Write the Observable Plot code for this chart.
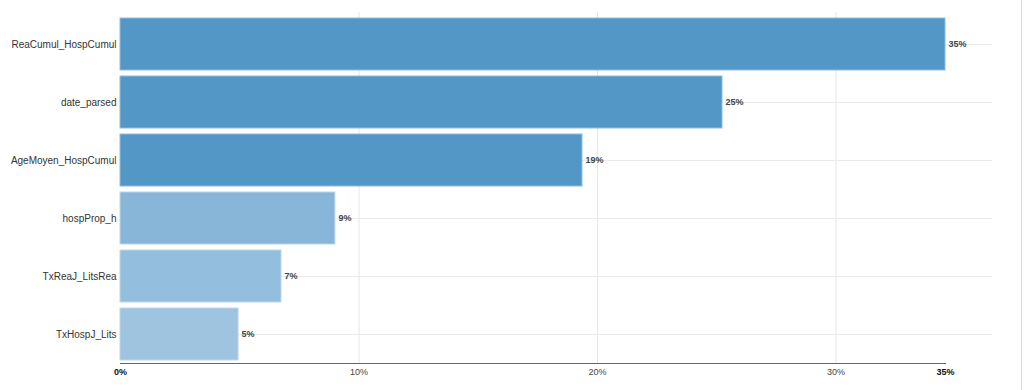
<!DOCTYPE html>
<html>
<head>
<meta charset="utf-8">
<script src="https://cdn.jsdelivr.net/npm/d3@7"></script>
<script src="https://cdn.jsdelivr.net/npm/@observablehq/plot@0.6"></script>
<style>
  html, body { margin: 0; padding: 0; background: #fff; }
  #wrap { width: 1021px; height: 390px; border-right: 1px solid #ddd; overflow: hidden; }
</style>
</head>
<body>
<div id="wrap"></div>
<script>
const features = ["ReaCumul_HospCumul", "date_parsed", "AgeMoyen_HospCumul", "hospProp_h", "TxReaJ_LitsRea", "TxHospJ_Lits"];
const importance = [0.3459, 0.2524, 0.1937, 0.0901, 0.0675, 0.0495];
const tier = ["high", "high", "high", "low", "low", "low"];
const tickValues = [0.1, 0.2, 0.3];

const data = features.map((f, i) => ({feature: f, value: importance[i], tier: tier[i]}));
const maxVal = d3.max(importance);
const fmt = d3.format(".0%");
const font = "Liberation Sans, Arial, sans-serif";

const chart = Plot.plot({
  width: 1021,
  height: 390,
  marginLeft: 120,
  marginRight: 76,
  marginTop: 12,
  marginBottom: 27,
  style: {fontFamily: font, background: "#fff"},
  x: {domain: [0, maxVal], axis: null},
  y: {domain: features, padding: 0.1, paddingOuter: 0.05, insetTop: 3, axis: null},
  color: {type: "linear", domain: [0.05, 0.09], range: ["#9ec4e0", "#88b6d8"]},
  marks: [
    Plot.gridX(tickValues, {stroke: "#e6e6e6", strokeOpacity: 1}),
    Plot.ruleY(features, {y: d => d, stroke: "#ebebeb", insetRight: -47}),
    Plot.barX(data.filter(d => d.tier === "high"), {x: "value", y: "feature", fill: "#5297c6", stroke: "#8fbce0", strokeWidth: 1}),
    Plot.barX(data.filter(d => d.tier === "low"), {x: "value", y: "feature", fill: "value", stroke: "#bcd7ec", strokeWidth: 1}),
    Plot.text(data, {x: "value", y: "feature", text: d => fmt(d.value), dx: 3, textAnchor: "start", fontWeight: "bold", fill: "#444", fontSize: 9}),
    Plot.frame({anchor: "bottom", stroke: "#666"}),
    Plot.axisY({tickSize: 0, tickPadding: 4, fontSize: 10, color: "#333", label: null}),
    Plot.axisX(tickValues, {tickSize: 0, tickPadding: 5, fontSize: 9, color: "#444", tickFormat: fmt, label: null}),
    Plot.axisX([0, maxVal], {tickSize: 0, tickPadding: 5, fontSize: 9, fontWeight: "bold", color: "#111", tickFormat: fmt, label: null})
  ]
});
document.getElementById("wrap").appendChild(chart);
</script>
</body>
</html>
